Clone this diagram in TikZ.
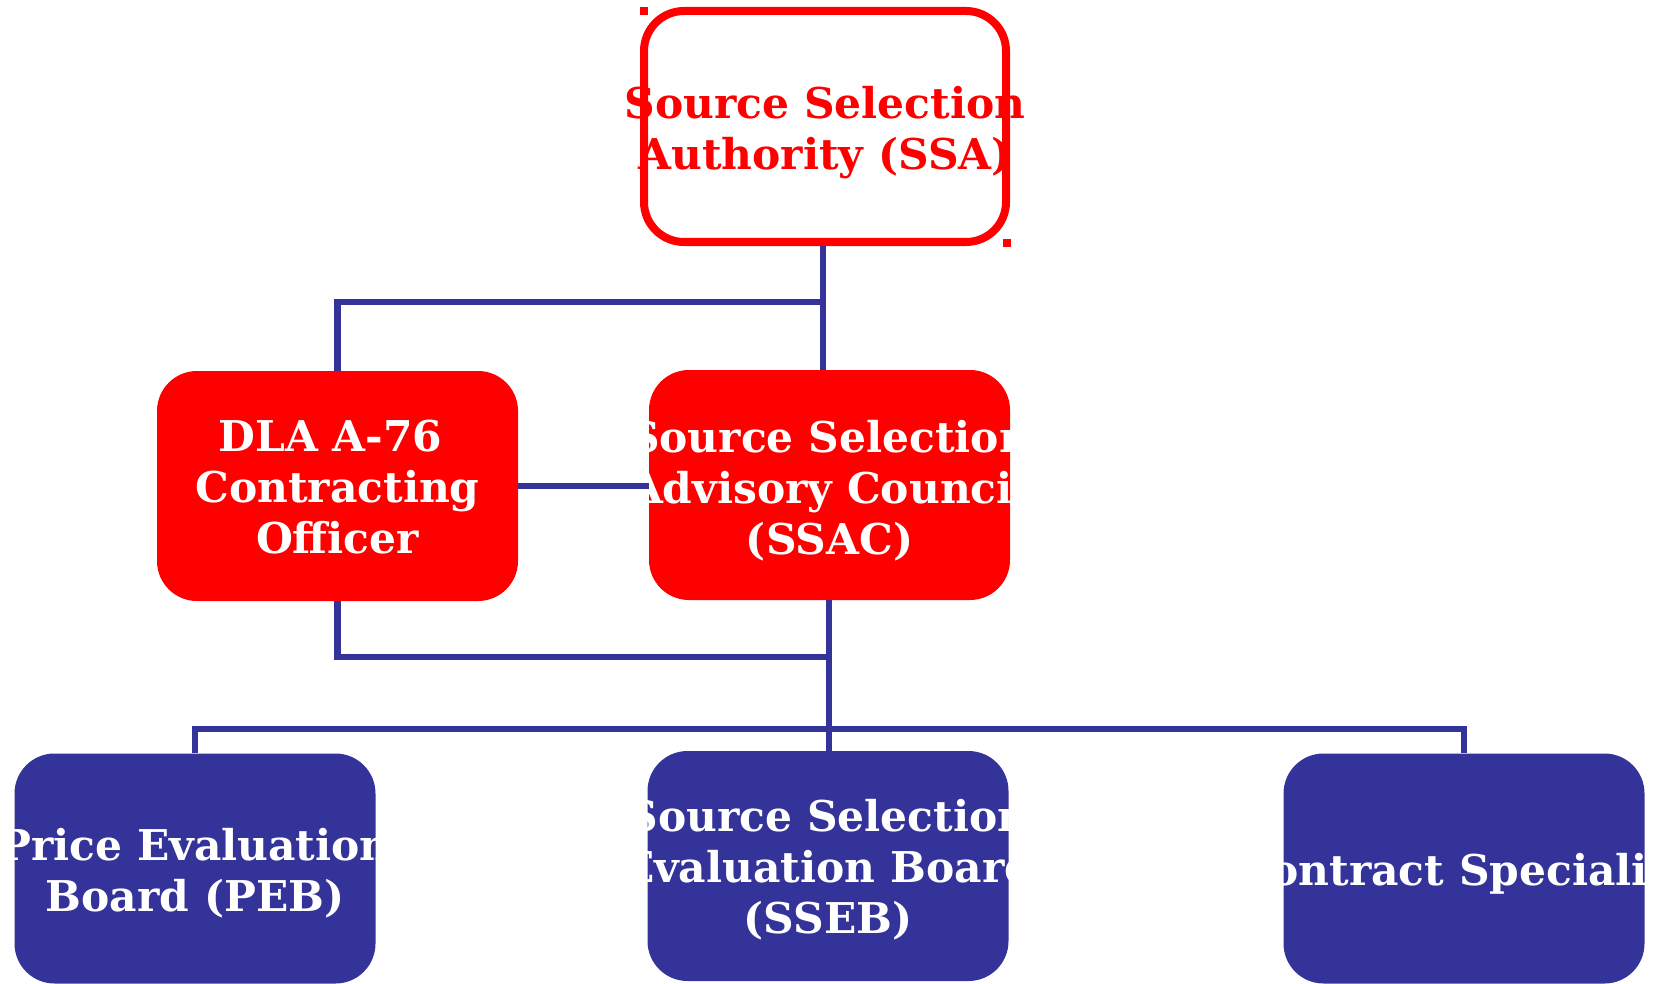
\documentclass[tikz,border=0pt]{standalone}
\usepackage{fontspec}
\setmainfont{DejaVu Serif}
\definecolor{navy}{HTML}{333399}
\definecolor{pure}{HTML}{FF0000}
\begin{document}
\begin{tikzpicture}[x=0.5pt,y=-0.5pt,
  box/.style={rectangle, rounded corners=20pt, minimum width=180.5pt, minimum height=115pt, inner sep=0pt},
  redbox/.style={box, fill=pure},
  bluebox/.style={box, fill=navy},
  outlinebox/.style={box, draw=pure, line width=4pt, fill=white, minimum width=181pt, minimum height=115.5pt},
  lbl/.style={align=center, inner sep=0pt, font=\bfseries\fontsize{21.2pt}{25.5pt}\selectfont},
  conn/.style={draw=navy, line width=3.2pt}]
\useasboundingbox (0,0) rectangle (1658,984);
% boxes
\node[outlinebox] (ssa) at (825,126.5) {};
\node[redbox] (dla) at (337.5,486) {};
\node[redbox] (ssac) at (829.5,485) {};
\node[bluebox] (peb) at (195,868.5) {};
\node[bluebox] (sseb) at (828,866) {};
\node[bluebox] (cs) at (1464,868.5) {};
% texts
\node[lbl, text=pure] (ssaT) at (825,133) {Source Selection\\Authority (SSA)};
\node[lbl, text=white] (dlaT) at (337.5,487) {DLA A-76\kern0.33em\\Contracting\\Officer};
\node[lbl, text=white] (ssacT) at (829.5,491) {Source Selection\\Advisory Council\\(SSAC)};
\node[lbl, text=white] (pebT) at (195,873.5) {Price Evaluation\\Board (PEB)};
\node[lbl, text=white] (ssebT) at (828,870) {Source Selection\\Evaluation Board\\(SSEB)};
\node[lbl, text=white] (csT) at (1464,874) {Contract Specialist};
% connectors
\coordinate (j1) at (823,302);
\coordinate (j2) at (829,657);
\coordinate (bus) at (829,729);
\draw[conn] (ssa.south -| j1) -- (ssac.north -| j1);
\draw[conn] (j1) -| (dla.north);
\draw[conn] (dla.east) -- (dla.east -| ssac.west);
\draw[conn] (dla.south) |- (j2);
\draw[conn] (ssac.south -| j2) -- (sseb.north -| j2);
\draw[conn] (peb.north) |- (bus) -| (cs.north);
% small marks
\fill[pure] (640,7) rectangle (648,15);
\fill[pure] (1003,239) rectangle (1011,247);
\end{tikzpicture}
\end{document}
